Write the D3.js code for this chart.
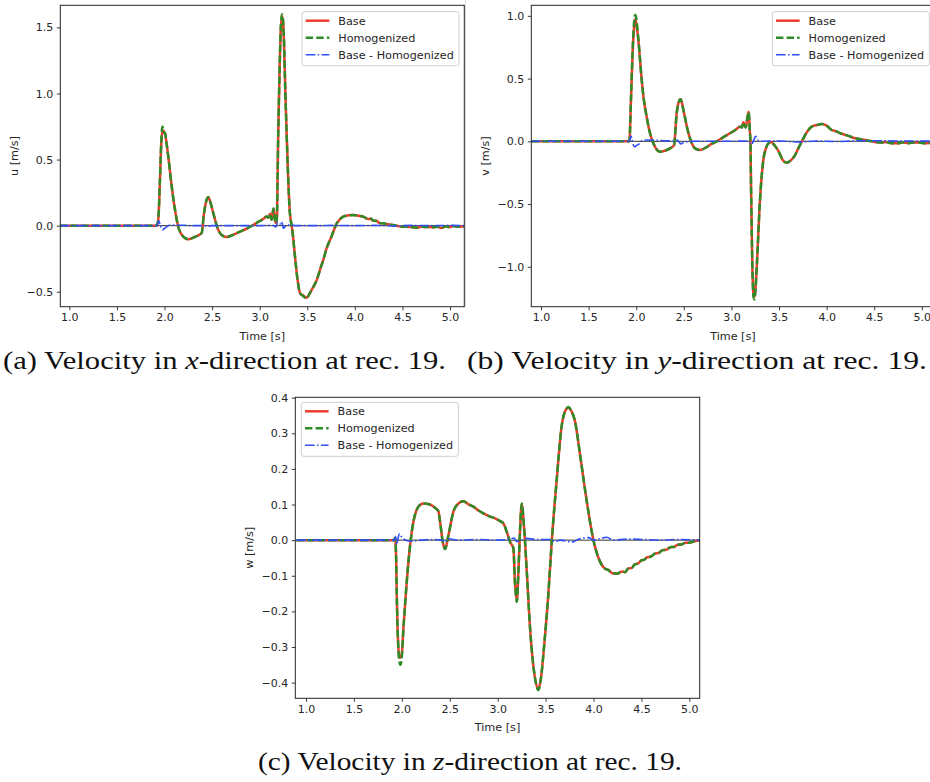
<!DOCTYPE html>
<html>
<head>
<meta charset="utf-8">
<script src="https://cdn.jsdelivr.net/npm/d3@7"></script>
<style>
  body { margin: 0; background: #fff; }
  svg { display: block; }
  .tick text { font-family: "DejaVu Sans", sans-serif; font-size: 11px; fill: #262626; }
  .lbl { font-family: "DejaVu Sans", sans-serif; font-size: 11.2px; fill: #262626; }
  .cap { font-family: "Liberation Serif", "DejaVu Serif", serif; font-size: 25px; fill: #111; }
</style>
</head>
<body>
<div id="chart"></div>
<script>
// tick values
var xTicks = [1.0, 1.5, 2.0, 2.5, 3.0, 3.5, 4.0, 4.5, 5.0];
var uTicks = [-0.5, 0.0, 0.5, 1.0, 1.5];
var vTicks = [-1.0, -0.5, 0.0, 0.5, 1.0];
var wTicks = [-0.4, -0.3, -0.2, -0.1, 0.0, 0.1, 0.2, 0.3, 0.4];

var seriesNames = ["Base", "Homogenized", "Base - Homogenized"];

// u (x-direction)
var uTime = [0.90, 1.20, 1.50, 1.80, 1.918, 1.935, 1.95, 1.965, 1.977, 1.988, 1.995, 2.005, 2.02, 2.04, 2.075, 2.11,
  2.145, 2.198, 2.25, 2.32, 2.39, 2.415, 2.44, 2.46, 2.485, 2.513, 2.565, 2.60, 2.653, 2.72, 2.793, 2.87, 2.933,
  3.00, 3.038, 3.07, 3.09, 3.11, 3.125, 3.145, 3.166, 3.18, 3.195, 3.21, 3.22, 3.234, 3.245, 3.255, 3.27, 3.283,
  3.30, 3.315, 3.336, 3.347, 3.371, 3.40, 3.424, 3.46, 3.494, 3.52, 3.546, 3.60, 3.64, 3.668, 3.704, 3.75, 3.81,
  3.878, 3.93, 3.983, 4.04, 4.088, 4.14, 4.17, 4.193, 4.23, 4.26, 4.298, 4.35, 4.403, 4.45, 4.508, 4.58, 4.65,
  4.70, 4.76, 4.82, 4.87, 4.91, 4.95, 5.00, 5.03, 5.08, 5.15];
var uBase = [0, 0, 0, 0, 0, 0.05, 0.30, 0.60, 0.72, 0.72, 0.70, 0.70, 0.63, 0.52, 0.30, 0.12,
  -0.01, -0.083, -0.103, -0.085, -0.055, 0.094, 0.19, 0.215, 0.17, 0.094, -0.033, -0.07, -0.085, -0.07, -0.045, -0.02, 0.005,
  0.035, 0.05, 0.07, 0.06, 0.09, 0.045, 0.13, 0.02, 0.05, 0.70, 1.20, 1.455, 1.585, 1.55, 1.40, 1.00, 0.70,
  0.35, 0.12, 0.0, -0.06, -0.234, -0.42, -0.51, -0.53, -0.545, -0.52, -0.486, -0.41, -0.32, -0.26, -0.17, -0.09, 0.018,
  0.068, 0.078, 0.081, 0.075, 0.068, 0.05, 0.052, 0.038, 0.035, 0.02, 0.018, 0.01, 0.005, -0.002, -0.008, -0.01, -0.015,
  -0.008, -0.01, -0.012, -0.008, -0.018, -0.005, -0.01, -0.003, -0.008, -0.004];
var uHomog = [0, 0, 0, 0, 0, 0.05, 0.31, 0.62, 0.75, 0.73, 0.71, 0.70, 0.63, 0.52, 0.30, 0.12,
  -0.01, -0.083, -0.103, -0.085, -0.055, 0.094, 0.19, 0.215, 0.17, 0.094, -0.033, -0.07, -0.085, -0.07, -0.045, -0.02, 0.005,
  0.035, 0.05, 0.07, 0.06, 0.09, 0.045, 0.13, 0.02, 0.05, 0.70, 1.21, 1.47, 1.60, 1.56, 1.40, 1.00, 0.70,
  0.35, 0.12, 0.0, -0.06, -0.234, -0.42, -0.51, -0.535, -0.55, -0.52, -0.486, -0.41, -0.32, -0.26, -0.17, -0.09, 0.018,
  0.068, 0.078, 0.081, 0.075, 0.068, 0.05, 0.052, 0.038, 0.035, 0.02, 0.018, 0.01, 0.005, -0.002, -0.008, -0.01, -0.015,
  -0.008, -0.01, -0.012, -0.008, -0.018, -0.005, -0.01, -0.003, -0.008, -0.004];
var uDiffTime = [0.90, 1.50, 1.92, 1.94, 1.955, 1.97, 1.985, 2.00, 2.03, 2.06, 2.10, 2.20, 2.30, 2.40, 2.45, 2.50,
  2.60, 2.80, 3.00, 3.10, 3.15, 3.17, 3.19, 3.21, 3.23, 3.25, 3.27, 3.30, 3.40, 3.60, 3.80, 4.00, 4.20, 4.40,
  4.60, 4.80, 5.00, 5.15];
var uDiff = [0, 0, 0, 0.035, 0.01, -0.025, -0.03, -0.02, -0.005, 0.005, 0.005, 0.003, 0, 0, -0.004, 0,
  0, 0, 0, 0.002, 0, -0.01, 0.025, 0.01, 0.03, -0.02, -0.005, 0.005, 0, 0, 0.002, 0, 0.002, -0.002,
  0.002, 0, 0.002, 0];

// v (y-direction)
var vTime = [0.90, 1.50, 1.928, 1.945, 1.963, 1.98, 1.987, 1.995, 2.022, 2.058, 2.08, 2.103, 2.145, 2.18, 2.22, 2.25,
  2.30, 2.355, 2.397, 2.425, 2.445, 2.467, 2.49, 2.51, 2.54, 2.565, 2.618, 2.67, 2.73, 2.79, 2.846, 2.92, 2.985,
  3.04, 3.09, 3.11, 3.125, 3.15, 3.17, 3.182, 3.192, 3.20, 3.206, 3.22, 3.232, 3.241, 3.25, 3.266, 3.30, 3.335,
  3.365, 3.388, 3.42, 3.45, 3.493, 3.54, 3.58, 3.62, 3.668, 3.70, 3.738, 3.79, 3.843, 3.90, 3.948, 4.00, 4.053,
  4.10, 4.14, 4.18, 4.228, 4.30, 4.403, 4.48, 4.53, 4.58, 4.62, 4.68, 4.75, 4.80, 4.86, 4.91, 4.96, 5.02, 5.15];
var vBase = [0, 0, 0, 0.33, 0.72, 0.93, 0.97, 0.96, 0.807, 0.488, 0.33, 0.223, 0.064, -0.016, -0.07, -0.083,
  -0.075, -0.056, -0.03, 0.223, 0.31, 0.335, 0.27, 0.197, 0.09, 0.024, -0.056, -0.069, -0.05, -0.02, 0.0, 0.035, 0.064,
  0.09, 0.117, 0.11, 0.151, 0.11, 0.20, 0.236, 0.10, -0.02, -0.36, -1.00, -1.22, -1.24, -1.20, -1.00, -0.468, -0.149,
  -0.05, -0.016, -0.005, -0.03, -0.077, -0.15, -0.17, -0.155, -0.11, -0.06, -0.003, 0.07, 0.117, 0.13, 0.138, 0.125, 0.09,
  0.08, 0.065, 0.055, 0.043, 0.025, 0.011, 0.0, -0.008, -0.01, -0.005, -0.015, -0.016, -0.008, -0.015, -0.01, -0.01, -0.015, -0.01];
var vHomog = [0, 0, 0, 0.34, 0.74, 0.97, 1.006, 1.00, 0.82, 0.488, 0.33, 0.223, 0.064, -0.016, -0.07, -0.083,
  -0.075, -0.056, -0.03, 0.223, 0.31, 0.335, 0.27, 0.197, 0.09, 0.024, -0.056, -0.069, -0.05, -0.02, 0.0, 0.035, 0.064,
  0.09, 0.117, 0.11, 0.151, 0.11, 0.20, 0.236, 0.10, -0.02, -0.36, -1.00, -1.24, -1.26, -1.21, -1.00, -0.468, -0.149,
  -0.05, -0.016, -0.005, -0.03, -0.077, -0.15, -0.17, -0.155, -0.11, -0.06, -0.003, 0.07, 0.117, 0.13, 0.138, 0.125, 0.09,
  0.08, 0.065, 0.055, 0.043, 0.025, 0.011, 0.0, -0.008, -0.01, -0.005, -0.015, -0.016, -0.008, -0.015, -0.01, -0.01, -0.015, -0.01];
var vDiffTime = [0.90, 1.50, 1.92, 1.935, 1.945, 1.955, 1.97, 1.985, 2.00, 2.03, 2.06, 2.10, 2.20, 2.30, 2.40, 2.43,
  2.47, 2.50, 2.60, 2.80, 3.00, 3.15, 3.19, 3.21, 3.23, 3.255, 3.28, 3.32, 3.50, 3.70, 3.90, 4.10, 4.30, 4.50,
  4.70, 4.90, 5.15];
var vDiff = [0, 0, 0, 0.01, 0.042, 0.02, -0.03, -0.045, -0.035, -0.02, 0.005, 0.01, 0.008, 0.005, 0.003, 0.01,
  -0.02, -0.008, 0, 0, 0, 0.003, -0.01, -0.025, 0, 0.04, 0.01, 0, 0.003, -0.005, 0.002, -0.002, 0.004, 0.005,
  0.003, 0.003, 0];

// w (z-direction)
var wTime = [0.90, 1.50, 1.911, 1.93, 1.94, 1.947, 1.964, 1.975, 1.985, 1.999, 2.016, 2.051, 2.086, 2.12, 2.15, 2.172,
  2.225, 2.294, 2.35, 2.381, 2.399, 2.427, 2.451, 2.486, 2.538, 2.59, 2.642, 2.70, 2.746, 2.80, 2.851, 2.92, 2.973,
  3.02, 3.06, 3.095, 3.129, 3.164, 3.18, 3.20, 3.216, 3.234, 3.251, 3.276, 3.304, 3.338, 3.39, 3.425, 3.45, 3.49,
  3.529, 3.565, 3.617, 3.669, 3.70, 3.738, 3.77, 3.808, 3.86, 3.93, 3.999, 4.069, 4.12, 4.156, 4.20, 4.243, 4.30,
  4.33, 4.36, 4.40, 4.43, 4.46, 4.50, 4.53, 4.56, 4.60, 4.64, 4.68, 4.72, 4.76, 4.80, 4.84, 4.88, 4.92, 4.96,
  5.00, 5.05, 5.11];
var wBase = [0, 0, 0, 0.005, -0.05, -0.154, -0.304, -0.33, -0.33, -0.32, -0.248, -0.117, -0.014, 0.051, 0.082, 0.094,
  0.103, 0.10, 0.09, 0.081, 0.051, -0.005, -0.025, 0.014, 0.08, 0.103, 0.109, 0.10, 0.094, 0.083, 0.075, 0.066, 0.061,
  0.054, 0.047, 0.023, -0.005, -0.023, -0.117, -0.17, -0.09, 0.033, 0.10, 0.033, -0.09, -0.248, -0.388, -0.418, -0.39, -0.28,
  -0.15, 0, 0.173, 0.323, 0.36, 0.372, 0.362, 0.332, 0.239, 0.108, 0, -0.061, -0.08, -0.084, -0.093, -0.094, -0.088,
  -0.09, -0.08, -0.078, -0.068, -0.066, -0.057, -0.055, -0.048, -0.046, -0.038, -0.036, -0.028, -0.027, -0.02, -0.019, -0.013, -0.012, -0.007,
  -0.007, -0.003, 0];
var wHomog = [0, 0, 0, 0.005, -0.05, -0.154, -0.31, -0.342, -0.35, -0.33, -0.25, -0.117, -0.014, 0.051, 0.082, 0.094,
  0.103, 0.10, 0.09, 0.081, 0.051, -0.005, -0.025, 0.014, 0.08, 0.103, 0.109, 0.10, 0.094, 0.083, 0.075, 0.066, 0.061,
  0.054, 0.047, 0.023, -0.005, -0.023, -0.117, -0.173, -0.09, 0.033, 0.103, 0.033, -0.09, -0.248, -0.388, -0.421, -0.39, -0.28,
  -0.15, 0, 0.173, 0.323, 0.36, 0.374, 0.362, 0.332, 0.239, 0.108, 0, -0.061, -0.08, -0.084, -0.093, -0.094, -0.088,
  -0.09, -0.08, -0.078, -0.068, -0.066, -0.057, -0.055, -0.048, -0.046, -0.038, -0.036, -0.028, -0.027, -0.02, -0.019, -0.013, -0.012, -0.007,
  -0.007, -0.003, 0];
var wDiffTime = [0.90, 1.50, 1.92, 1.935, 1.945, 1.96, 1.975, 1.99, 2.01, 2.04, 2.10, 2.20, 2.30, 2.42, 2.45, 2.48,
  2.60, 2.80, 3.00, 3.12, 3.17, 3.20, 3.25, 3.30, 3.40, 3.55, 3.60, 3.65, 3.78, 3.85, 3.95, 4.00, 4.14, 4.20,
  4.35, 4.50, 4.70, 4.90, 5.11];
var wDiff = [0, 0, 0, 0.01, -0.012, 0.005, 0.018, 0.012, 0.005, 0, -0.003, 0, 0.002, 0, -0.006, 0.004,
  0, 0.002, 0, 0.003, 0.006, -0.004, 0, 0.005, 0.002, 0.002, -0.004, 0, -0.005, 0.003, 0.007, 0, 0.008, 0,
  0.003, 0.002, 0, 0.002, 0];

var captions = [
  {label: "(a) Velocity in ", math: "x", rest: "-direction at rec. 19."},
  {label: "(b) Velocity in ", math: "y", rest: "-direction at rec. 19."},
  {label: "(c) Velocity in ", math: "z", rest: "-direction at rec. 19."}
];

var colors = ["#f03c2a", "#2f8a28", "#2f4ff7"];
var dashes = [null, "7.4,3.2", "9.6,2.4,1.5,2.4"];
var widths = [2.5, 2.5, 1.6];

function zip(t, v) { return t.map(function(d, i) { return {t: d, v: v[i]}; }); }

var panels = [
  {left: 60.3, right: 464.3, top: 5.3, bottom: 306.7, xd: [0.905, 5.15], yd: [-0.613, 1.667], ticks: uTicks,
   ylab: "u [m/s]", fmt: d3.format(".1f"), legend: "right",
   series: [zip(uTime, uBase), zip(uTime, uHomog), zip(uDiffTime, uDiff)],
   cap: {c: captions[0], x: 3, len: 443, y: 369}},
  {left: 531.3, right: 934.6, top: 5.3, bottom: 306.7, xd: [0.898, 5.134], yd: [-1.318, 1.084], ticks: vTicks,
   ylab: "v [m/s]", fmt: d3.format(".1f"), legend: "right",
   series: [zip(vTime, vBase), zip(vTime, vHomog), zip(vDiffTime, vDiff)],
   cap: {c: captions[1], x: 467, len: 460, y: 369}},
  {left: 295.3, right: 699.7, top: 397.3, bottom: 698.3, xd: [0.888, 5.108], yd: [-0.444, 0.401], ticks: wTicks,
   ylab: "w [m/s]", fmt: d3.format(".1f"), legend: "left",
   series: [zip(wTime, wBase), zip(wTime, wHomog), zip(wDiffTime, wDiff)],
   cap: {c: captions[2], x: 258, len: 424, y: 770}}
];

var svg = d3.select("#chart").append("svg")
  .attr("width", 930).attr("height", 782);

// faint border of the subfigure (b)
svg.append("line").attr("x1", 465.5).attr("x2", 465.5).attr("y1", 0).attr("y2", 307)
  .attr("stroke", "#dcdcdc").attr("stroke-width", 1);

function minus(s) { return s.replace("-", "\u2212"); }

panels.forEach(function(p, pi) {
  var x = d3.scaleLinear().domain(p.xd).range([p.left, p.right]);
  var y = d3.scaleLinear().domain(p.yd).range([p.bottom, p.top]);
  var g = svg.append("g");

  var clipId = "clip" + pi;
  svg.append("clipPath").attr("id", clipId).append("rect")
    .attr("x", p.left).attr("y", p.top)
    .attr("width", p.right - p.left).attr("height", p.bottom - p.top);

  // zero reference line
  g.append("line")
    .attr("x1", p.left).attr("x2", p.right)
    .attr("y1", y(0)).attr("y2", y(0))
    .attr("stroke", "#333").attr("stroke-width", 1)
    .attr("clip-path", "url(#" + clipId + ")");

  var line = d3.line().x(function(d) { return x(d.t); }).y(function(d) { return y(d.v); })
    .curve(d3.curveMonotoneX);

  p.series.forEach(function(s, i) {
    g.append("path").datum(s)
      .attr("d", line)
      .attr("fill", "none")
      .attr("stroke", colors[i])
      .attr("stroke-width", widths[i])
      .attr("stroke-dasharray", dashes[i])
      .attr("stroke-linejoin", "round")
      .attr("clip-path", "url(#" + clipId + ")");
  });

  // axes
  var xAxis = d3.axisBottom(x).tickValues(xTicks).tickFormat(d3.format(".1f")).tickSizeOuter(0).tickSize(3.5).tickPadding(3.5);
  var yAxis = d3.axisLeft(y).tickValues(p.ticks).tickFormat(function(d) { return minus(p.fmt(d)); })
    .tickSizeOuter(0).tickSize(3.5).tickPadding(3.5);

  var gx = g.append("g").attr("transform", "translate(0," + p.bottom + ")").call(xAxis);
  var gy = g.append("g").attr("transform", "translate(" + p.left + ",0)").call(yAxis);
  [gx, gy].forEach(function(a) {
    a.select(".domain").remove();
    a.selectAll(".tick line").attr("stroke", "#262626").attr("stroke-width", 0.9);
  });

  // frame
  g.append("rect")
    .attr("x", p.left).attr("y", p.top)
    .attr("width", p.right - p.left).attr("height", p.bottom - p.top)
    .attr("fill", "none").attr("stroke", "#262626").attr("stroke-width", 1);

  // axis labels
  g.append("text").attr("class", "lbl")
    .attr("x", (p.left + p.right) / 2).attr("y", p.bottom + 33)
    .attr("text-anchor", "middle").text("Time [s]");
  g.append("text").attr("class", "lbl")
    .attr("transform", "translate(" + (p.left - 42) + "," + ((p.top + p.bottom) / 2) + ") rotate(-90)")
    .attr("text-anchor", "middle").text(p.ylab);

  // legend
  var lw = 157, lh = 54;
  var lx = p.legend === "right" ? p.right - 5.3 - lw : p.left + 6;
  var ly = p.top + (p.legend === "right" ? 6.4 : 5);
  var lg = g.append("g").attr("transform", "translate(" + lx + "," + ly + ")");
  lg.append("rect").attr("width", lw).attr("height", lh).attr("rx", 2.5)
    .attr("fill", "#fff").attr("fill-opacity", 0.8)
    .attr("stroke", "#cfcfcf").attr("stroke-width", 1);
  seriesNames.forEach(function(name, i) {
    var yy = 9 + i * 17;
    lg.append("line").attr("x1", 3.7).attr("x2", 27.3).attr("y1", yy).attr("y2", yy)
      .attr("stroke", colors[i]).attr("stroke-width", widths[i]).attr("stroke-dasharray", dashes[i]);
    lg.append("text").attr("class", "lbl").attr("x", 36.3).attr("y", yy + 4).text(name);
  });

  // caption
  var cap = svg.append("text").attr("class", "cap")
    .attr("x", p.cap.x).attr("y", p.cap.y)
    .attr("textLength", p.cap.len).attr("lengthAdjust", "spacingAndGlyphs");
  cap.append("tspan").text(p.cap.c.label);
  cap.append("tspan").attr("font-style", "italic").text(p.cap.c.math);
  cap.append("tspan").text(p.cap.c.rest);
});
</script>
</body>
</html>
